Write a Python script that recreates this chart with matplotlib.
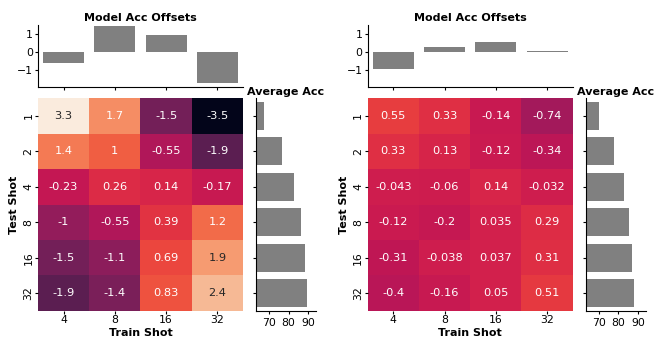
import matplotlib
matplotlib.use("Agg")
import matplotlib.pyplot as plt
import seaborn as sns
import numpy as np

train_shots = ["4", "8", "16", "32"]
test_shots = ["1", "2", "4", "8", "16", "32"]

# left panel
offsets_a = [-0.6, 1.44, 0.94, -1.7]
heat_a = [
    [3.3, 1.7, -1.5, -3.5],
    [1.4, 1.0, -0.55, -1.9],
    [-0.23, 0.26, 0.14, -0.17],
    [-1.0, -0.55, 0.39, 1.2],
    [-1.5, -1.1, 0.69, 1.9],
    [-1.9, -1.4, 0.83, 2.4],
]
avg_a = [67.3, 76.9, 83.0, 86.4, 88.4, 89.6]

# right panel
offsets_b = [-0.95, 0.27, 0.57, 0.05]
heat_b = [
    [0.55, 0.33, -0.14, -0.74],
    [0.33, 0.13, -0.12, -0.34],
    [-0.043, -0.06, 0.14, -0.032],
    [-0.12, -0.2, 0.035, 0.29],
    [-0.31, -0.038, 0.037, 0.31],
    [-0.4, -0.16, 0.05, 0.51],
]
avg_b = [70.3, 77.9, 82.7, 85.6, 87.0, 88.1]

vmin, vmax = -3.5, 3.3
TICK = 7.8

fig = plt.figure(figsize=(6.64, 3.52), dpi=100)


def panel(x0, offsets, heat, avg):
    w_heat = 0.3087
    ax_top = fig.add_axes([x0, 0.7528, w_heat, 0.176])
    ax_hm = fig.add_axes([x0, 0.1165, w_heat, 0.605])
    ax_avg = fig.add_axes([x0 + 0.328, 0.1165, 0.0908, 0.605])

    # offsets bar chart
    ax_top.bar(np.arange(len(offsets)), offsets, width=0.8, color="gray")
    ax_top.set_xlim(-0.5, len(offsets) - 0.5)
    ax_top.set_ylim(-1.94, 1.5)
    ax_top.set_yticks([1, 0, -1])
    ax_top.set_xticks(np.arange(len(offsets)))
    ax_top.set_xticklabels([])
    ax_top.tick_params(labelsize=TICK, length=2.2, pad=1.5)
    for s in ["top", "right"]:
        ax_top.spines[s].set_visible(False)
    ax_top.set_title("Model Acc Offsets", fontsize=8, fontweight="bold", pad=3)

    # heatmap
    sns.heatmap(np.array(heat), ax=ax_hm, cmap="rocket", vmin=vmin, vmax=vmax,
                annot=True, cbar=False, annot_kws={"size": 8.2},
                xticklabels=train_shots, yticklabels=test_shots)
    ax_hm.set_yticklabels(test_shots, rotation=90, va="center")
    ax_hm.set_xticklabels(train_shots, rotation=0)
    ax_hm.tick_params(labelsize=TICK, length=2.2, pad=1)
    ax_hm.set_xlabel("Train Shot", fontsize=8, fontweight="bold", labelpad=2)
    ax_hm.set_ylabel("Test Shot", fontsize=8, fontweight="bold", labelpad=3)

    # average accuracy
    ax_avg.barh(np.arange(len(avg)) + 0.5, avg, height=0.8, color="gray")
    ax_avg.set_ylim(len(avg), 0)
    ax_avg.set_xlim(63.3, 94)
    ax_avg.set_xticks([70, 80, 90])
    ax_avg.set_yticks(np.arange(len(avg)) + 0.5)
    ax_avg.set_yticklabels([])
    ax_avg.tick_params(labelsize=TICK, length=2.2, pad=2.5)
    for s in ["top", "right"]:
        ax_avg.spines[s].set_visible(False)
    ax_avg.set_title("Average Acc", fontsize=8, fontweight="bold", pad=2)


panel(0.0572, offsets_a, heat_a, avg_a)
panel(0.5538, offsets_b, heat_b, avg_b)

fig.savefig("out.png", dpi=100)
